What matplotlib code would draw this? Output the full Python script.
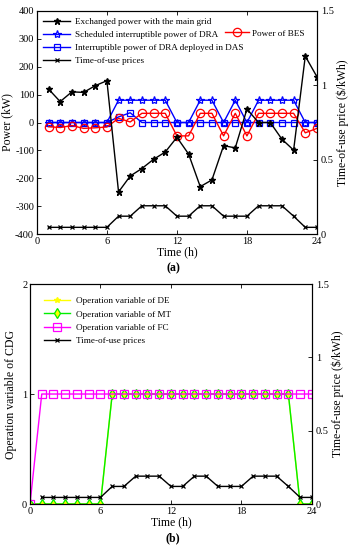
import matplotlib.pyplot as plt
import numpy as np

plt.rcParams["font.family"] = ["Liberation Serif", "DejaVu Serif"]
plt.rcParams["mathtext.fontset"] = "stix"

# ---- panel (a) data ----
hours_a = np.arange(1, 25)
exchanged_power = [120, 75, 110, 108, 132, 150, -249, -192, -165, -132, -106, -53,
                   -113, -230, -206, -83, -91, 48, 0, 0, -60, -99, 238, 164]
dra_scheduled = [0, 0, 0, 0, 0, 0, 80, 80, 80, 80, 80, 0,
                 0, 80, 80, 0, 80, 0, 80, 80, 80, 80, 0, 0]
dra_das = [0, 0, 0, 0, 0, 0, 20, 35, 0, 0, 0, 0,
           0, 0, 0, 0, 0, 0, 0, 0, 0, 0, 0, 0]
bes_power = [-15, -18, -11, -21, -19, -16, 15, 2, 33, 33, 33, -48,
             -48, 33, 33, -48, 33, -48, 33, 33, 33, 33, -37, -21]
tou_price = [0.045, 0.045, 0.045, 0.045, 0.045, 0.045, 0.12, 0.12, 0.19, 0.19, 0.19, 0.12,
             0.12, 0.19, 0.19, 0.12, 0.12, 0.12, 0.19, 0.19, 0.19, 0.12, 0.045, 0.045]

# ---- panel (b) data ----
hours_b = np.arange(0, 25)
de_state = [0, 0, 0, 0, 0, 0, 0, 1, 1, 1, 1, 1, 1, 1, 1, 1, 1, 1, 1, 1, 1, 1, 1, 0, 0]
mt_state = [0, 0, 0, 0, 0, 0, 0, 1, 1, 1, 1, 1, 1, 1, 1, 1, 1, 1, 1, 1, 1, 1, 1, 0, 0]
fc_state = [0] + [1] * 24

TICK_FS = 7.5
LABEL_FS = 8.5
LEGEND_FS = 6.6


def style_axes(ax):
    ax.tick_params(direction="in", labelsize=TICK_FS, length=3, width=0.6,
                   top=True, right=False, pad=2)
    for spine in ax.spines.values():
        spine.set_linewidth(0.8)


fig = plt.figure(figsize=(3.51, 5.5), dpi=100)

# ================= (a) =================
ax1 = fig.add_axes([0.105, 0.5745, 0.798, 0.4055])
ax1.plot(hours_a, dra_scheduled, color="blue", marker="*", ms=6, mfc="none", mew=0.9, lw=1,
         label="Scheduled interruptible power of DRA")
ax1.plot(hours_a, dra_das, color="blue", marker="s", ms=5, mfc="none", mew=0.9, lw=1,
         label="Interruptible power of DRA deployed in DAS")
ax1.plot(hours_a, bes_power, color="red", marker="o", ms=6, mfc="none", mew=0.9, lw=1,
         label="Power of BES")
ax1.plot(hours_a, exchanged_power, color="black", marker="*", ms=5, lw=1,
         label="Exchanged power with the main grid")
ax1.set_xlim(0, 24)
ax1.set_ylim(-400, 400)
ax1.set_xticks([0, 6, 12, 18, 24])
ax1.set_yticks(np.arange(-400, 401, 100))
ax1.set_yticklabels([str(v) for v in range(-400, 401, 100)])
ax1.set_xlabel("Time (h)", fontsize=LABEL_FS, labelpad=0)
ax1.set_ylabel("Power (kW)", fontsize=LABEL_FS, labelpad=1)
style_axes(ax1)

ax1r = ax1.twinx()
ax1r.plot(hours_a, tou_price, color="black", marker="x", ms=3.5, mew=0.9, lw=1,
          label="Time-of-use prices")
ax1r.set_ylim(0, 1.5)
ax1r.set_yticks([0, 0.5, 1, 1.5])
ax1r.set_yticklabels(["0", "0.5", "1", "1.5"])
ax1r.set_ylabel("Time-of-use price (\\$/kWh)", fontsize=LABEL_FS, labelpad=2)
ax1r.tick_params(direction="in", labelsize=TICK_FS, length=3, width=0.6, pad=3)

h1, l1 = ax1.get_legend_handles_labels()
h1r, l1r = ax1r.get_legend_handles_labels()
leg_a = ax1r.legend([h1[3], h1[0], h1[1], h1r[0]], [l1[3], l1[0], l1[1], l1r[0]],
                    loc="upper left", bbox_to_anchor=(0.0, 1.0), frameon=False,
                    fontsize=LEGEND_FS, handlelength=2.9, handletextpad=0.55,
                    labelspacing=0.5, borderaxespad=0.3)
ax1r.add_artist(leg_a)
ax1r.legend([h1[2]], [l1[2]], loc="upper left", bbox_to_anchor=(0.66, 0.935),
            frameon=False, fontsize=LEGEND_FS, handlelength=2.6, handletextpad=0.35,
            borderaxespad=0)

fig.text(0.493, 0.512, "(a)", ha="center", va="center", fontsize=LABEL_FS,
         fontweight="bold")

# ================= (b) =================
ax2 = fig.add_axes([0.0855, 0.0836, 0.803, 0.400])
ax2.plot(hours_b, de_state, color="yellow", marker="*", ms=4, lw=1,
         label="Operation variable of DE")
ax2.plot(hours_b, mt_state, color="#00ee00", marker="d", ms=5, mfc="#ffff00", mew=0.9, lw=1,
         label="Operation variable of MT")
ax2.plot(hours_b, fc_state, color="magenta", marker="s", ms=5.5, mfc="none", mew=0.9, lw=1,
         label="Operation variable of FC")
ax2.set_xlim(0, 24)
ax2.set_ylim(0, 2)
ax2.set_xticks([0, 6, 12, 18, 24])
ax2.set_yticks([0, 1, 2])
ax2.set_xlabel("Time (h)", fontsize=LABEL_FS, labelpad=0)
ax2.set_ylabel("Operation variable of CDG", fontsize=LABEL_FS, labelpad=4)
style_axes(ax2)

ax2r = ax2.twinx()
ax2r.plot(hours_a, tou_price, color="black", marker="x", ms=3.5, mew=0.9, lw=1,
          label="Time-of-use prices")
ax2r.set_ylim(0, 1.5)
ax2r.set_yticks([0, 0.5, 1, 1.5])
ax2r.set_yticklabels(["0", "0.5", "1", "1.5"])
ax2r.set_ylabel("Time-of-use price (\\$/kWh)", fontsize=LABEL_FS, labelpad=2)
ax2r.tick_params(direction="in", labelsize=TICK_FS, length=3, width=0.6, pad=3)

h2, l2 = ax2.get_legend_handles_labels()
h2r, l2r = ax2r.get_legend_handles_labels()
ax2r.legend(h2 + h2r, l2 + l2r, loc="upper left", bbox_to_anchor=(0.02, 0.98),
            frameon=False, fontsize=LEGEND_FS, handlelength=2.9, handletextpad=0.55,
            labelspacing=0.55)

fig.text(0.493, 0.022, "(b)", ha="center", va="center", fontsize=LABEL_FS,
         fontweight="bold")

fig.savefig("out.png", dpi=100)
plt.close(fig)
